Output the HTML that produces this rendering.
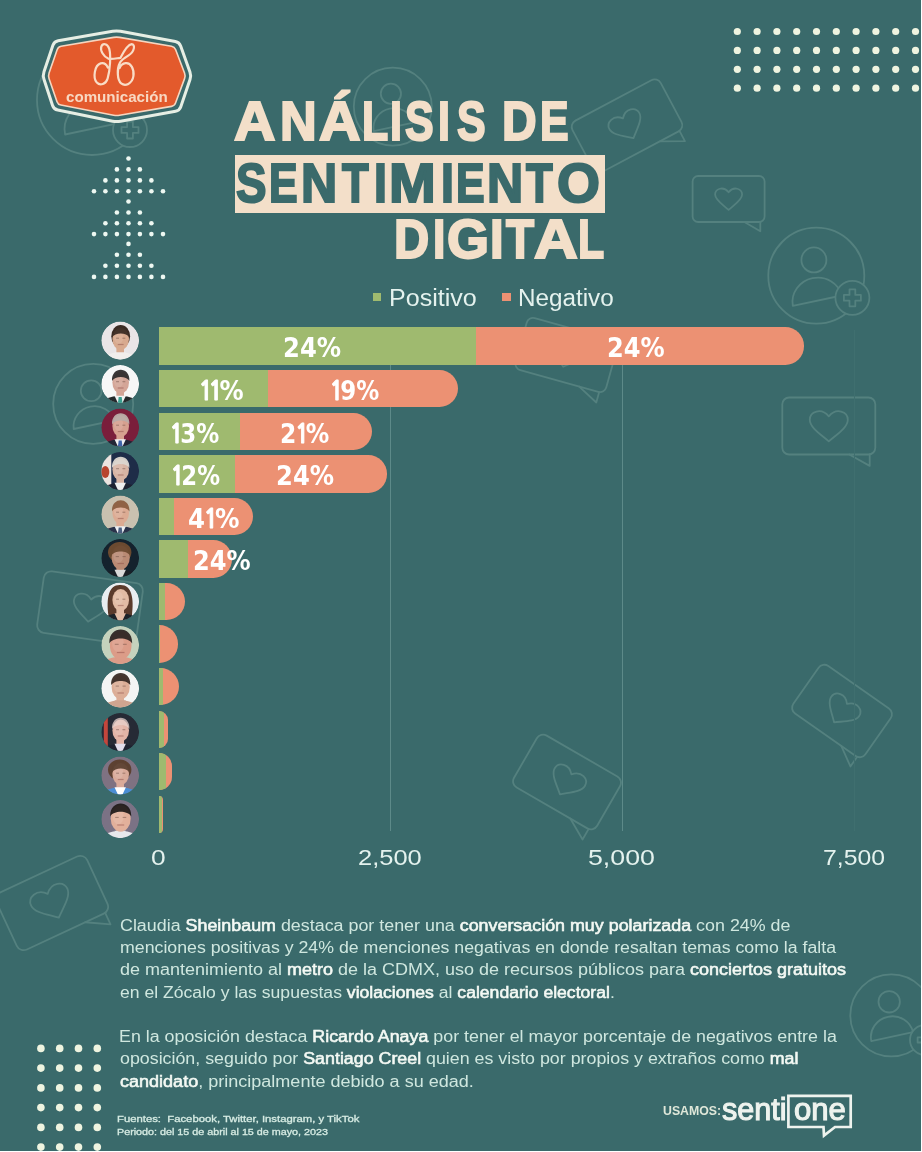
<!DOCTYPE html>
<html lang="es">
<head>
<meta charset="utf-8">
<title>Análisis de Sentimiento Digital</title>
<style>
html,body{margin:0;padding:0;}
body{width:922px;height:1152px;overflow:hidden;background:#ffffff;position:relative;}
#page{position:absolute;left:0;top:0;width:921px;height:1151px;background:#3a6a6b;overflow:hidden;font-family:"Liberation Sans",Arial,sans-serif;}
.abs{position:absolute;white-space:nowrap;transform-origin:0 0;}
.title{font-family:"Liberation Sans",Arial,sans-serif;font-weight:700;font-size:55px;line-height:55px;color:#f3dfc9;transform-origin:0 0;-webkit-text-stroke:2.1px currentColor;}
.legend{font-size:23.3px;line-height:23.3px;color:#e4f2ee;transform-origin:0 0;}
.lab{font-family:"DejaVu Sans","Liberation Sans",sans-serif;font-weight:700;font-size:26px;line-height:26px;color:#ffffff;transform-origin:0 0;}
.tick{font-size:22.8px;line-height:22.8px;color:#e4f2ee;}
.body{font-size:15.8px;line-height:15.8px;color:#cfe7df;transform-origin:0 0;}
.body b{color:#f4f9f4;font-weight:400;-webkit-text-stroke:0.55px currentColor;}
.foot{font-size:9.2px;line-height:9.2px;color:#d6ebe3;transform-origin:0 0;-webkit-text-stroke:0.3px currentColor;}
.g{position:absolute;top:0;transform-origin:0 0;}
.one1{font-family:"NanumGothic","DejaVu Sans",sans-serif;letter-spacing:-3.6px;margin-left:-1.6px;line-height:0;-webkit-text-stroke:0.9px currentColor;}
</style>
</head>
<body>

<div id="page">
<svg class="abs" style="left:0;top:0" width="922" height="1152" fill="none" stroke="#54817f" stroke-width="1.8" stroke-linejoin="round" stroke-linecap="round"><circle cx="92" cy="100" r="55"/><circle cx="89.2" cy="81.8" r="14.3"/><path d="M65.1,134.5 A28.6,27.2 -12 0 1 121.1,122.7 Z"/><circle cx="130" cy="130" r="17" fill="#3a6a6b"/><path d="M127.1,121.5 h5.8 v5.6 h5.6 v5.8 h-5.6 v5.6 h-5.8 v-5.6 h-5.6 v-5.8 h5.6 Z"/><circle cx="392.8" cy="106.6" r="39"/><circle cx="390.9" cy="93.7" r="10.1"/><path d="M373.7,131.1 A20.3,19.3 -12 0 1 413.4,122.7 Z"/><g transform="translate(627.0,126.0) rotate(-28)"><rect x="-50.0" y="-29.0" width="100.0" height="58.0" rx="7.0"/><path d="M22.0,29.0 L44.0,40.6 L44.0,29.0"/><path d="M0.0,13.8 C-6.8,7.7 -17.0,1.5 -17.0,-5.5 C-17.0,-12.9 -6.8,-16.8 0.0,-8.6 C6.8,-16.8 17.0,-12.9 17.0,-5.5 C17.0,1.5 6.8,7.7 0.0,13.8Z"/></g><g transform="translate(728.6,199.0) rotate(0)"><rect x="-36.0" y="-23.0" width="72.0" height="46.0" rx="5.5"/><path d="M15.8,23.0 L31.7,32.2 L31.7,23.0"/><path d="M0.0,10.9 C-5.4,6.1 -13.5,1.2 -13.5,-4.4 C-13.5,-10.2 -5.4,-13.4 0.0,-6.8 C5.4,-13.4 13.5,-10.2 13.5,-4.4 C13.5,1.2 5.4,6.1 0.0,10.9Z"/></g><circle cx="816.3" cy="275.7" r="48"/><circle cx="813.9" cy="259.9" r="12.5"/><path d="M792.8,305.8 A25.0,23.7 -12 0 1 841.7,295.5 Z"/><circle cx="852.4" cy="297.8" r="17" fill="#3a6a6b"/><path d="M849.5,289.3 h5.8 v5.6 h5.6 v5.8 h-5.6 v5.6 h-5.8 v-5.6 h-5.6 v-5.8 h5.6 Z"/><g transform="translate(828.8,426.0) rotate(0)"><rect x="-46.5" y="-28.5" width="93.0" height="57.0" rx="6.8"/><path d="M20.5,28.5 L40.9,39.9 L40.9,28.5"/><path d="M0.0,15.4 C-7.6,8.6 -19.0,1.7 -19.0,-6.2 C-19.0,-14.4 -7.6,-18.8 0.0,-9.6 C7.6,-18.8 19.0,-14.4 19.0,-6.2 C19.0,1.7 7.6,8.6 0.0,15.4Z"/></g><circle cx="93.2" cy="403.9" r="40"/><circle cx="91.2" cy="390.7" r="10.4"/><path d="M73.7,429.0 A20.8,19.8 -12 0 1 114.3,420.4 Z"/><g transform="translate(90.0,608.0) rotate(8)"><rect x="-50.0" y="-31.0" width="100.0" height="62.0" rx="7.4"/><path d="M22.0,31.0 L44.0,43.4 L44.0,31.0"/><path d="M0.0,13.8 C-6.8,7.7 -17.0,1.5 -17.0,-5.5 C-17.0,-12.9 -6.8,-16.8 0.0,-8.6 C6.8,-16.8 17.0,-12.9 17.0,-5.5 C17.0,1.5 6.8,7.7 0.0,13.8Z"/></g><g transform="translate(566.5,355.0) rotate(15.5)"><rect x="-47.0" y="-27.0" width="94.0" height="54.0" rx="6.5"/><path d="M20.7,27.0 L41.4,37.8 L41.4,27.0"/><path d="M0.0,12.2 C-6.0,6.8 -15.0,1.4 -15.0,-4.9 C-15.0,-11.3 -6.0,-14.9 0.0,-7.6 C6.0,-14.9 15.0,-11.3 15.0,-4.9 C15.0,1.4 6.0,6.8 0.0,12.2Z"/></g><g transform="translate(567.0,782.0) rotate(30)"><rect x="-48.0" y="-30.0" width="96.0" height="60.0" rx="7.2"/><path d="M21.1,30.0 L42.2,42.0 L42.2,30.0"/><path d="M0.0,14.2 C-7.0,7.9 -17.5,1.6 -17.5,-5.7 C-17.5,-13.2 -7.0,-17.3 0.0,-8.8 C7.0,-17.3 17.5,-13.2 17.5,-5.7 C17.5,1.6 7.0,7.9 0.0,14.2Z"/></g><g transform="translate(842.0,711.0) rotate(35)"><rect x="-44.0" y="-29.0" width="88.0" height="58.0" rx="7.0"/><path d="M19.4,29.0 L38.7,40.6 L38.7,29.0"/><path d="M0.0,13.8 C-6.8,7.7 -17.0,1.5 -17.0,-5.5 C-17.0,-12.9 -6.8,-16.8 0.0,-8.6 C6.8,-16.8 17.0,-12.9 17.0,-5.5 C17.0,1.5 6.8,7.7 0.0,13.8Z"/></g><g transform="translate(52.0,903.0) rotate(-25)"><rect x="-50.0" y="-31.5" width="100.0" height="63.0" rx="7.6"/><path d="M22.0,31.5 L44.0,44.1 L44.0,31.5"/><path d="M0.0,16.2 C-8.0,9.0 -20.0,1.8 -20.0,-6.5 C-20.0,-15.1 -8.0,-19.8 0.0,-10.1 C8.0,-19.8 20.0,-15.1 20.0,-6.5 C20.0,1.8 8.0,9.0 0.0,16.2Z"/></g><circle cx="891.3" cy="1015.3" r="41"/><circle cx="889.2" cy="1001.8" r="10.7"/><path d="M871.3,1041.1 A21.3,20.3 -12 0 1 913.0,1032.2 Z"/><circle cx="925" cy="1040" r="15" fill="#3a6a6b"/><path d="M922.5,1032.5 h5.1 v4.9 h4.9 v5.1 h-4.9 v4.9 h-5.1 v-4.9 h-4.9 v-5.1 h4.9 Z"/></svg>
<svg class="abs" style="left:0;top:0" width="922" height="1152" fill="#eff4e0"><circle cx="737.3" cy="31.5" r="3.6"/><circle cx="757.1" cy="31.5" r="3.6"/><circle cx="776.9" cy="31.5" r="3.6"/><circle cx="796.7" cy="31.5" r="3.6"/><circle cx="816.5" cy="31.5" r="3.6"/><circle cx="836.3" cy="31.5" r="3.6"/><circle cx="856.1" cy="31.5" r="3.6"/><circle cx="875.9" cy="31.5" r="3.6"/><circle cx="895.7" cy="31.5" r="3.6"/><circle cx="915.5" cy="31.5" r="3.6"/><circle cx="737.3" cy="50.4" r="3.6"/><circle cx="757.1" cy="50.4" r="3.6"/><circle cx="776.9" cy="50.4" r="3.6"/><circle cx="796.7" cy="50.4" r="3.6"/><circle cx="816.5" cy="50.4" r="3.6"/><circle cx="836.3" cy="50.4" r="3.6"/><circle cx="856.1" cy="50.4" r="3.6"/><circle cx="875.9" cy="50.4" r="3.6"/><circle cx="895.7" cy="50.4" r="3.6"/><circle cx="915.5" cy="50.4" r="3.6"/><circle cx="737.3" cy="69.3" r="3.6"/><circle cx="757.1" cy="69.3" r="3.6"/><circle cx="776.9" cy="69.3" r="3.6"/><circle cx="796.7" cy="69.3" r="3.6"/><circle cx="816.5" cy="69.3" r="3.6"/><circle cx="836.3" cy="69.3" r="3.6"/><circle cx="856.1" cy="69.3" r="3.6"/><circle cx="875.9" cy="69.3" r="3.6"/><circle cx="895.7" cy="69.3" r="3.6"/><circle cx="915.5" cy="69.3" r="3.6"/><circle cx="737.3" cy="88.2" r="3.6"/><circle cx="757.1" cy="88.2" r="3.6"/><circle cx="776.9" cy="88.2" r="3.6"/><circle cx="796.7" cy="88.2" r="3.6"/><circle cx="816.5" cy="88.2" r="3.6"/><circle cx="836.3" cy="88.2" r="3.6"/><circle cx="856.1" cy="88.2" r="3.6"/><circle cx="875.9" cy="88.2" r="3.6"/><circle cx="895.7" cy="88.2" r="3.6"/><circle cx="915.5" cy="88.2" r="3.6"/><circle cx="128.5" cy="158.5" r="2.3" fill="#eef8f2"/><circle cx="116.9" cy="169.4" r="2.3" fill="#eef8f2"/><circle cx="128.5" cy="169.4" r="2.3" fill="#eef8f2"/><circle cx="139.9" cy="169.4" r="2.3" fill="#eef8f2"/><circle cx="105.4" cy="180.4" r="2.3" fill="#eef8f2"/><circle cx="116.9" cy="180.4" r="2.3" fill="#eef8f2"/><circle cx="128.5" cy="180.4" r="2.3" fill="#eef8f2"/><circle cx="139.9" cy="180.4" r="2.3" fill="#eef8f2"/><circle cx="151.4" cy="180.4" r="2.3" fill="#eef8f2"/><circle cx="94.0" cy="191.3" r="2.3" fill="#eef8f2"/><circle cx="105.4" cy="191.3" r="2.3" fill="#eef8f2"/><circle cx="116.9" cy="191.3" r="2.3" fill="#eef8f2"/><circle cx="128.5" cy="191.3" r="2.3" fill="#eef8f2"/><circle cx="139.9" cy="191.3" r="2.3" fill="#eef8f2"/><circle cx="151.4" cy="191.3" r="2.3" fill="#eef8f2"/><circle cx="163.0" cy="191.3" r="2.3" fill="#eef8f2"/><circle cx="128.5" cy="201.5" r="2.3" fill="#eef8f2"/><circle cx="116.9" cy="212.5" r="2.3" fill="#eef8f2"/><circle cx="128.5" cy="212.5" r="2.3" fill="#eef8f2"/><circle cx="139.9" cy="212.5" r="2.3" fill="#eef8f2"/><circle cx="105.4" cy="223.3" r="2.3" fill="#eef8f2"/><circle cx="116.9" cy="223.3" r="2.3" fill="#eef8f2"/><circle cx="128.5" cy="223.3" r="2.3" fill="#eef8f2"/><circle cx="139.9" cy="223.3" r="2.3" fill="#eef8f2"/><circle cx="151.4" cy="223.3" r="2.3" fill="#eef8f2"/><circle cx="94.0" cy="234.1" r="2.3" fill="#eef8f2"/><circle cx="105.4" cy="234.1" r="2.3" fill="#eef8f2"/><circle cx="116.9" cy="234.1" r="2.3" fill="#eef8f2"/><circle cx="128.5" cy="234.1" r="2.3" fill="#eef8f2"/><circle cx="139.9" cy="234.1" r="2.3" fill="#eef8f2"/><circle cx="151.4" cy="234.1" r="2.3" fill="#eef8f2"/><circle cx="163.0" cy="234.1" r="2.3" fill="#eef8f2"/><circle cx="128.5" cy="243.9" r="2.3" fill="#eef8f2"/><circle cx="116.9" cy="254.7" r="2.3" fill="#eef8f2"/><circle cx="128.5" cy="254.7" r="2.3" fill="#eef8f2"/><circle cx="139.9" cy="254.7" r="2.3" fill="#eef8f2"/><circle cx="105.4" cy="265.8" r="2.3" fill="#eef8f2"/><circle cx="116.9" cy="265.8" r="2.3" fill="#eef8f2"/><circle cx="128.5" cy="265.8" r="2.3" fill="#eef8f2"/><circle cx="139.9" cy="265.8" r="2.3" fill="#eef8f2"/><circle cx="151.4" cy="265.8" r="2.3" fill="#eef8f2"/><circle cx="94.0" cy="276.9" r="2.3" fill="#eef8f2"/><circle cx="105.4" cy="276.9" r="2.3" fill="#eef8f2"/><circle cx="116.9" cy="276.9" r="2.3" fill="#eef8f2"/><circle cx="128.5" cy="276.9" r="2.3" fill="#eef8f2"/><circle cx="139.9" cy="276.9" r="2.3" fill="#eef8f2"/><circle cx="151.4" cy="276.9" r="2.3" fill="#eef8f2"/><circle cx="163.0" cy="276.9" r="2.3" fill="#eef8f2"/><circle cx="40.9" cy="1048.4" r="3.8"/><circle cx="59.7" cy="1048.4" r="3.8"/><circle cx="78.5" cy="1048.4" r="3.8"/><circle cx="97.3" cy="1048.4" r="3.8"/><circle cx="40.9" cy="1068.1" r="3.8"/><circle cx="59.7" cy="1068.1" r="3.8"/><circle cx="78.5" cy="1068.1" r="3.8"/><circle cx="97.3" cy="1068.1" r="3.8"/><circle cx="40.9" cy="1087.9" r="3.8"/><circle cx="59.7" cy="1087.9" r="3.8"/><circle cx="78.5" cy="1087.9" r="3.8"/><circle cx="97.3" cy="1087.9" r="3.8"/><circle cx="40.9" cy="1107.6" r="3.8"/><circle cx="59.7" cy="1107.6" r="3.8"/><circle cx="78.5" cy="1107.6" r="3.8"/><circle cx="97.3" cy="1107.6" r="3.8"/><circle cx="40.9" cy="1127.4" r="3.8"/><circle cx="59.7" cy="1127.4" r="3.8"/><circle cx="78.5" cy="1127.4" r="3.8"/><circle cx="97.3" cy="1127.4" r="3.8"/><circle cx="40.9" cy="1147.1" r="3.8"/><circle cx="59.7" cy="1147.1" r="3.8"/><circle cx="78.5" cy="1147.1" r="3.8"/><circle cx="97.3" cy="1147.1" r="3.8"/></svg>
<svg class="abs" style="left:0;top:0" width="240" height="140"><path d="M112.66,31.29 Q116.60,30.60 120.53,31.33 L175.37,41.57 Q179.30,42.30 180.65,46.07 L189.95,72.03 Q191.30,75.80 190.01,79.59 L180.79,106.71 Q179.50,110.50 175.57,111.22 L120.53,121.28 Q116.60,122.00 112.68,121.21 L57.72,110.09 Q53.80,109.30 52.55,105.50 L43.95,79.30 Q42.70,75.50 43.98,71.71 L52.92,45.29 Q54.20,41.50 58.14,40.81 Z" fill="#3a6a6b" stroke="#e6eee4" stroke-width="3" stroke-linejoin="round"/><path d="M113.64,37.40 Q116.60,36.90 119.56,37.40 L171.54,46.20 Q174.50,46.70 175.57,49.50 L184.53,73.00 Q185.60,75.80 184.56,78.61 L175.54,103.09 Q174.50,105.90 171.54,106.41 L119.56,115.29 Q116.60,115.80 113.65,115.23 L60.95,105.07 Q58.00,104.50 57.02,101.67 L49.08,78.73 Q48.10,75.90 49.07,73.06 L57.13,49.64 Q58.10,46.80 61.06,46.30 Z" fill="#e35a2c" stroke="#f6d6c0" stroke-width="1.6" stroke-linejoin="round"/><path d="M120.5,57.8 C115,58.6 111,59.6 108.2,58.6 C103.5,56.5 100,50.5 101.3,46.6 C102.8,42.6 107.6,43.6 109.2,48.6 C111,55 110.2,70 107.6,78.6 C105.8,84.2 100.2,86.2 96.8,82.6 C92.6,77.8 94.6,65.2 100.6,63.4 C104,62.6 106.6,64.8 107.8,67.5 M120.5,57.8 C123.5,52 127.5,44.6 131.6,44.2 C135.6,44.2 134.6,51.6 128.6,55.4 C125,57.6 121.6,59.6 120,62.6 C116.6,69 117.2,80 121.2,83.4 C125.2,86.6 132.2,84 133.4,76.2 C134.4,69.2 131,62.6 125.6,63.2 C122.6,63.6 120.4,66 119.6,68" fill="none" stroke="#f9dcc6" stroke-width="2.2" stroke-linecap="round"/></svg><div class="abs " id="logotxt" style="left:65.78px;top:90.20px;transform:scaleX(1.0224);font-weight:700;font-size:14.8px;line-height:14.8px;color:#f8d8c2;transform-origin:0 0;">comunicación</div>
<div class="abs title" id="t1" style="left:0;top:93.50px;width:922px;height:58px;"><span class="g" style="left:233.70px;transform:scaleX(1.0425)">A</span><span class="g" style="left:280.25px;transform:scaleX(0.9229)">N</span><span class="g" style="left:319.10px;transform:scaleX(1.0450)">Á</span><span class="g" style="left:362.40px;transform:scaleX(0.7800)">L</span><span class="g" style="left:389.64px;transform:scaleX(0.7818)">I</span><span class="g" style="left:404.61px;transform:scaleX(0.7800)">S</span><span class="g" style="left:438.40px;transform:scaleX(0.7800)">I</span><span class="g" style="left:456.81px;transform:scaleX(0.7800)">S</span> <span class="g" style="left:501.85px;transform:scaleX(0.8730)">D</span><span class="g" style="left:540.48px;transform:scaleX(0.7800)">E</span></div><div class="abs" style="left:234.5px;top:154.8px;width:370px;height:58.2px;background:#f3dfc9"></div><div class="abs title" id="t2" style="left:0;top:155.50px;width:922px;height:58px;color:#3a6a6b;"><span class="g" style="left:236.10px;transform:scaleX(0.8306)">S</span><span class="g" style="left:268.68px;transform:scaleX(0.7800)">E</span><span class="g" style="left:301.28px;transform:scaleX(0.9114)">N</span><span class="g" style="left:341.99px;transform:scaleX(0.7943)">T</span><span class="g" style="left:373.51px;transform:scaleX(0.8455)">I</span><span class="g" style="left:388.66px;transform:scaleX(1.0195)">M</span><span class="g" style="left:441.11px;transform:scaleX(0.8455)">I</span><span class="g" style="left:455.78px;transform:scaleX(0.7800)">E</span><span class="g" style="left:487.38px;transform:scaleX(0.9114)">N</span><span class="g" style="left:525.99px;transform:scaleX(0.7943)">T</span><span class="g" style="left:557.20px;transform:scaleX(1.0049)">O</span></div><div class="abs title" id="t3" style="left:0;top:212.10px;width:922px;height:58px;"><span class="g" style="left:394.43px;transform:scaleX(0.8865)">D</span><span class="g" style="left:432.78px;transform:scaleX(0.8091)">I</span><span class="g" style="left:447.12px;transform:scaleX(0.9825)">G</span><span class="g" style="left:489.82px;transform:scaleX(0.8909)">I</span><span class="g" style="left:506.34px;transform:scaleX(0.8371)">T</span><span class="g" style="left:534.20px;transform:scaleX(1.1025)">A</span><span class="g" style="left:577.80px;transform:scaleX(0.7800)">L</span></div>
<div class="abs" style="left:372.9px;top:293px;width:8.3px;height:8px;background:#9fba6f"></div><div class="abs legend" id="lg1" style="left:389.09px;top:286.50px;transform:scaleX(1.0759);">Positivo</div><div class="abs" style="left:502.4px;top:293px;width:8.2px;height:8px;background:#ec9173"></div><div class="abs legend" id="lg2" style="left:518.04px;top:286.50px;transform:scaleX(1.0411);">Negativo</div>
<div class="abs" style="left:389.8px;top:330px;width:1.3px;height:501px;background:#5d8a89"></div><div class="abs" style="left:621.8px;top:330px;width:1.3px;height:501px;background:#5d8a89"></div><div class="abs" style="left:853.8px;top:330px;width:1.2px;height:501px;background:#3f6f6f"></div><div class="abs" style="left:158.5px;top:327.40px;width:645.90px;height:37.4px;background:#ec9173;border-radius:0 18.7px 18.7px 0;overflow:hidden"><div style="position:absolute;left:0;top:0;width:317.80px;height:100%;background:#9fba6f"></div></div><div class="abs" style="left:158.5px;top:369.97px;width:299.80px;height:37.4px;background:#ec9173;border-radius:0 18.7px 18.7px 0;overflow:hidden"><div style="position:absolute;left:0;top:0;width:109.50px;height:100%;background:#9fba6f"></div></div><div class="abs" style="left:158.5px;top:412.54px;width:213.60px;height:37.4px;background:#ec9173;border-radius:0 18.7px 18.7px 0;overflow:hidden"><div style="position:absolute;left:0;top:0;width:81.10px;height:100%;background:#9fba6f"></div></div><div class="abs" style="left:158.5px;top:455.11px;width:228.20px;height:37.4px;background:#ec9173;border-radius:0 18.7px 18.7px 0;overflow:hidden"><div style="position:absolute;left:0;top:0;width:76.50px;height:100%;background:#9fba6f"></div></div><div class="abs" style="left:158.5px;top:497.68px;width:94.60px;height:37.4px;background:#ec9173;border-radius:0 18.7px 18.7px 0;overflow:hidden"><div style="position:absolute;left:0;top:0;width:15.10px;height:100%;background:#9fba6f"></div></div><div class="abs" style="left:158.5px;top:540.25px;width:73.10px;height:37.4px;background:#ec9173;border-radius:0 18.7px 18.7px 0;overflow:hidden"><div style="position:absolute;left:0;top:0;width:29.70px;height:100%;background:#9fba6f"></div></div><div class="abs" style="left:158.5px;top:582.82px;width:26.80px;height:37.4px;background:#ec9173;border-radius:0 18.7px 18.7px 0;overflow:hidden"><div style="position:absolute;left:0;top:0;width:6.70px;height:100%;background:#9fba6f"></div></div><div class="abs" style="left:158.5px;top:625.39px;width:19.50px;height:37.4px;background:#ec9173;border-radius:0 18.7px 18.7px 0;overflow:hidden"><div style="position:absolute;left:0;top:0;width:1.00px;height:100%;background:#9fba6f"></div></div><div class="abs" style="left:158.5px;top:667.96px;width:20.10px;height:37.4px;background:#ec9173;border-radius:0 18.7px 18.7px 0;overflow:hidden"><div style="position:absolute;left:0;top:0;width:4.60px;height:100%;background:#9fba6f"></div></div><div class="abs" style="left:158.5px;top:710.53px;width:9.50px;height:37.4px;background:#ec9173;border-radius:0 18.7px 18.7px 0;overflow:hidden"><div style="position:absolute;left:0;top:0;width:5.90px;height:100%;background:#9fba6f"></div></div><div class="abs" style="left:158.5px;top:753.10px;width:13.40px;height:37.4px;background:#ec9173;border-radius:0 18.7px 18.7px 0;overflow:hidden"><div style="position:absolute;left:0;top:0;width:7.90px;height:100%;background:#9fba6f"></div></div><div class="abs" style="left:158.5px;top:795.67px;width:4.60px;height:37.4px;background:#ec9173;border-radius:0 18.7px 18.7px 0;overflow:hidden"><div style="position:absolute;left:0;top:0;width:3.10px;height:100%;background:#9fba6f"></div></div>
<svg class="abs" style="left:0;top:0" width="922" height="1152"><defs><clipPath id="ac0"><circle cx="120.2" cy="340.5" r="18.9"/></clipPath><clipPath id="ac1"><circle cx="120.2" cy="384.0" r="18.9"/></clipPath><clipPath id="ac2"><circle cx="120.2" cy="427.5" r="18.9"/></clipPath><clipPath id="ac3"><circle cx="120.2" cy="471.0" r="18.9"/></clipPath><clipPath id="ac4"><circle cx="120.2" cy="514.5" r="18.9"/></clipPath><clipPath id="ac5"><circle cx="120.2" cy="558.0" r="18.9"/></clipPath><clipPath id="ac6"><circle cx="120.2" cy="601.5" r="18.9"/></clipPath><clipPath id="ac7"><circle cx="120.2" cy="645.0" r="18.9"/></clipPath><clipPath id="ac8"><circle cx="120.2" cy="688.5" r="18.9"/></clipPath><clipPath id="ac9"><circle cx="120.2" cy="732.0" r="18.9"/></clipPath><clipPath id="ac10"><circle cx="120.2" cy="775.5" r="18.9"/></clipPath><clipPath id="ac11"><circle cx="120.2" cy="819.0" r="18.9"/></clipPath></defs><g clip-path="url(#ac0)"><circle cx="120.2" cy="340.5" r="18.9" fill="#e9e5e7"/><ellipse cx="120.7" cy="336.3" rx="9.4" ry="11.3" fill="#3b2b24"/><ellipse cx="120.2" cy="360.9" rx="18.5" ry="8.7" fill="#f1eeec"/><rect x="116.4" y="346.2" width="7.6" height="7.6" fill="#d8a98e"/><path d="M114.5,352.2 L125.9,352.2 L122.5,359.4 L117.9,359.4Z" fill="#f1eeec"/><ellipse cx="120.7" cy="339.0" rx="8.3" ry="11.0" fill="#d8a98e"/><ellipse cx="118.6" cy="337.4" rx="4.6" ry="6.6" fill="#ffffff" opacity="0.10"/><path d="M112.0,337.4 C111.1,322.4 130.3,322.4 129.4,337.4 C126.5,332.2 114.9,332.2 112.0,337.4Z" fill="#3b2b24" opacity="0.95"/><rect x="116.1" y="337.7" width="2.9" height="1" fill="#6a4a40" opacity="0.5"/><rect x="122.4" y="337.7" width="2.9" height="1" fill="#6a4a40" opacity="0.5"/><rect x="117.8" y="343.9" width="5.8" height="1.2" fill="#8a4a44" opacity="0.45"/></g><g clip-path="url(#ac1)"><circle cx="120.2" cy="384.0" r="18.9" fill="#f7f7f7"/><ellipse cx="120.2" cy="404.4" rx="18.5" ry="8.7" fill="#23292b"/><rect x="116.4" y="389.7" width="7.6" height="7.6" fill="#d4a597"/><path d="M114.5,395.7 L125.9,395.7 L122.5,402.9 L117.9,402.9Z" fill="#f2f2f2"/><path d="M118.7,396.9 L121.7,396.9 L122.5,402.9 L117.9,402.9Z" fill="#3aa090"/><ellipse cx="120.7" cy="382.5" rx="8.3" ry="11.0" fill="#d4a597"/><ellipse cx="118.6" cy="380.9" rx="4.6" ry="6.6" fill="#ffffff" opacity="0.10"/><path d="M112.0,380.9 C111.1,365.9 130.3,365.9 129.4,380.9 C126.5,375.7 114.9,375.7 112.0,380.9Z" fill="#2f2b2c" opacity="0.95"/><rect x="116.1" y="381.2" width="2.9" height="1" fill="#6a4a40" opacity="0.5"/><rect x="122.4" y="381.2" width="2.9" height="1" fill="#6a4a40" opacity="0.5"/><rect x="117.8" y="387.4" width="5.8" height="1.2" fill="#8a4a44" opacity="0.45"/></g><g clip-path="url(#ac2)"><circle cx="120.2" cy="427.5" r="18.9" fill="#7a1e3b"/><ellipse cx="120.2" cy="447.9" rx="18.5" ry="8.7" fill="#222636"/><rect x="116.4" y="433.2" width="7.6" height="7.6" fill="#d6a08f"/><path d="M114.5,439.2 L125.9,439.2 L122.5,446.4 L117.9,446.4Z" fill="#f0f0f2"/><path d="M118.7,440.4 L121.7,440.4 L122.5,446.4 L117.9,446.4Z" fill="#3f63a8"/><ellipse cx="120.7" cy="426.0" rx="8.3" ry="11.0" fill="#d6a08f"/><ellipse cx="118.6" cy="424.4" rx="4.6" ry="6.6" fill="#ffffff" opacity="0.10"/><path d="M112.0,424.4 C111.1,409.4 130.3,409.4 129.4,424.4 C126.5,419.2 114.9,419.2 112.0,424.4Z" fill="#b9aca8" opacity="0.95"/><rect x="116.1" y="424.7" width="2.9" height="1" fill="#6a4a40" opacity="0.5"/><rect x="122.4" y="424.7" width="2.9" height="1" fill="#6a4a40" opacity="0.5"/><rect x="117.8" y="430.9" width="5.8" height="1.2" fill="#8a4a44" opacity="0.45"/></g><g clip-path="url(#ac3)"><circle cx="120.2" cy="471.0" r="18.9" fill="#1e2c48"/><rect x="101.30000000000001" y="452.1" width="10" height="37.8" fill="#ece4e0"/><ellipse cx="105.30000000000001" cy="472.0" rx="4" ry="6" fill="#b8442e"/><ellipse cx="120.2" cy="491.4" rx="18.5" ry="8.7" fill="#1d2130"/><rect x="116.4" y="476.7" width="7.6" height="7.6" fill="#d8b4a4"/><path d="M114.5,482.7 L125.9,482.7 L122.5,489.9 L117.9,489.9Z" fill="#eeeeee"/><ellipse cx="120.7" cy="469.5" rx="8.3" ry="11.0" fill="#d8b4a4"/><ellipse cx="118.6" cy="467.9" rx="4.6" ry="6.6" fill="#ffffff" opacity="0.10"/><path d="M112.0,467.9 C111.1,452.9 130.3,452.9 129.4,467.9 C126.5,462.7 114.9,462.7 112.0,467.9Z" fill="#dcd6d0" opacity="0.95"/><rect x="116.1" y="468.2" width="2.9" height="1" fill="#6a4a40" opacity="0.5"/><rect x="122.4" y="468.2" width="2.9" height="1" fill="#6a4a40" opacity="0.5"/><rect x="117.8" y="474.4" width="5.8" height="1.2" fill="#8a4a44" opacity="0.45"/></g><g clip-path="url(#ac4)"><circle cx="120.2" cy="514.5" r="18.9" fill="#c9c1b0"/><ellipse cx="120.2" cy="534.9" rx="18.5" ry="8.7" fill="#29324a"/><rect x="116.4" y="520.2" width="7.6" height="7.6" fill="#dcab93"/><path d="M114.5,526.2 L125.9,526.2 L122.5,533.4 L117.9,533.4Z" fill="#eef0f2"/><path d="M118.7,527.4 L121.7,527.4 L122.5,533.4 L117.9,533.4Z" fill="#4a5f80"/><ellipse cx="120.7" cy="513.0" rx="8.3" ry="11.0" fill="#dcab93"/><ellipse cx="118.6" cy="511.4" rx="4.6" ry="6.6" fill="#ffffff" opacity="0.10"/><path d="M112.0,511.4 C111.1,496.4 130.3,496.4 129.4,511.4 C126.5,506.2 114.9,506.2 112.0,511.4Z" fill="#8b5e40" opacity="0.95"/><rect x="116.1" y="511.7" width="2.9" height="1" fill="#6a4a40" opacity="0.5"/><rect x="122.4" y="511.7" width="2.9" height="1" fill="#6a4a40" opacity="0.5"/><rect x="117.8" y="517.9" width="5.8" height="1.2" fill="#8a4a44" opacity="0.45"/></g><g clip-path="url(#ac5)"><circle cx="120.2" cy="558.0" r="18.9" fill="#14222d"/><ellipse cx="120.2" cy="578.4" rx="18.5" ry="8.7" fill="#1a1f26"/><rect x="116.4" y="563.7" width="7.6" height="7.6" fill="#b98a74"/><path d="M114.5,569.7 L125.9,569.7 L122.5,576.9 L117.9,576.9Z" fill="#dadada"/><ellipse cx="119.7" cy="552.3" rx="11.7" ry="10.4" fill="#6b4a30"/><ellipse cx="120.7" cy="557.5" rx="9.1" ry="12.1" fill="#b98a74"/><ellipse cx="118.4" cy="555.7" rx="5.0" ry="7.2" fill="#ffffff" opacity="0.10"/><path d="M111.1,555.7 C110.2,539.5 131.2,539.5 130.3,555.7 C127.1,550.0 114.3,550.0 111.1,555.7Z" fill="#6b4a30" opacity="0.95"/><rect x="115.7" y="556.1" width="3.2" height="1" fill="#6a4a40" opacity="0.5"/><rect x="122.5" y="556.1" width="3.2" height="1" fill="#6a4a40" opacity="0.5"/><rect x="117.5" y="562.9" width="6.4" height="1.2" fill="#8a4a44" opacity="0.45"/></g><g clip-path="url(#ac6)"><circle cx="120.2" cy="601.5" r="18.9" fill="#e9edf0"/><path d="M108.5,615.7 C106.0,597.7 108.9,584.5 120.2,584.9 C131.5,584.5 134.4,597.7 131.9,615.7 Z" fill="#5a3a2b"/><ellipse cx="120.2" cy="621.9" rx="18.5" ry="8.7" fill="#1c2228"/><rect x="116.4" y="607.2" width="7.6" height="7.6" fill="#e2bba4"/><path d="M114.5,613.2 L125.9,613.2 L122.5,620.4 L117.9,620.4Z" fill="#e2bba4"/><ellipse cx="120.7" cy="600.0" rx="8.3" ry="11.0" fill="#e2bba4"/><ellipse cx="118.6" cy="598.4" rx="4.6" ry="6.6" fill="#ffffff" opacity="0.10"/><rect x="116.1" y="598.7" width="2.9" height="1" fill="#6a4a40" opacity="0.5"/><rect x="122.4" y="598.7" width="2.9" height="1" fill="#6a4a40" opacity="0.5"/><rect x="117.8" y="604.9" width="5.8" height="1.2" fill="#8a4a44" opacity="0.45"/></g><g clip-path="url(#ac7)"><circle cx="120.2" cy="645.0" r="18.9" fill="#c5d2bd"/><ellipse cx="120.2" cy="665.4" rx="18.5" ry="8.7" fill="#dc9c88"/><rect x="116.4" y="650.7" width="7.6" height="7.6" fill="#dc9c88"/><path d="M114.5,656.7 L125.9,656.7 L122.5,663.9 L117.9,663.9Z" fill="#dc9c88"/><ellipse cx="120.7" cy="645.5" rx="10.8" ry="14.3" fill="#dc9c88"/><ellipse cx="118.0" cy="643.4" rx="5.9" ry="8.6" fill="#ffffff" opacity="0.10"/><path d="M109.3,643.4 C108.3,624.7 133.1,624.7 132.1,643.4 C128.3,636.7 113.1,636.7 109.3,643.4Z" fill="#2e2624" opacity="0.95"/><rect x="114.8" y="643.8" width="3.8" height="1" fill="#6a4a40" opacity="0.5"/><rect x="122.9" y="643.8" width="3.8" height="1" fill="#6a4a40" opacity="0.5"/><rect x="116.9" y="651.9" width="7.6" height="1.2" fill="#8a4a44" opacity="0.45"/></g><g clip-path="url(#ac8)"><circle cx="120.2" cy="688.5" r="18.9" fill="#f4f5f4"/><ellipse cx="120.2" cy="708.9" rx="18.5" ry="8.7" fill="#cfa590"/><rect x="116.4" y="694.2" width="7.6" height="7.6" fill="#dcae97"/><path d="M114.5,700.2 L125.9,700.2 L122.5,707.4 L117.9,707.4Z" fill="#cfa590"/><ellipse cx="120.7" cy="687.0" rx="9.1" ry="12.1" fill="#dcae97"/><ellipse cx="118.4" cy="685.2" rx="5.0" ry="7.2" fill="#ffffff" opacity="0.10"/><path d="M111.1,685.2 C110.2,669.0 131.2,669.0 130.3,685.2 C127.1,679.5 114.3,679.5 111.1,685.2Z" fill="#3a2c26" opacity="0.95"/><rect x="115.7" y="685.6" width="3.2" height="1" fill="#6a4a40" opacity="0.5"/><rect x="122.5" y="685.6" width="3.2" height="1" fill="#6a4a40" opacity="0.5"/><rect x="117.5" y="692.4" width="6.4" height="1.2" fill="#8a4a44" opacity="0.45"/></g><g clip-path="url(#ac9)"><circle cx="120.2" cy="732.0" r="18.9" fill="#262a35"/><rect x="103.80000000000001" y="713.1" width="4" height="37.8" fill="#c4463c"/><ellipse cx="120.2" cy="752.4" rx="18.5" ry="8.7" fill="#1e2230"/><rect x="116.4" y="737.7" width="7.6" height="7.6" fill="#e3b4a7"/><path d="M114.5,743.7 L125.9,743.7 L122.5,750.9 L117.9,750.9Z" fill="#e0dcea"/><ellipse cx="120.7" cy="730.5" rx="8.3" ry="11.0" fill="#e3b4a7"/><ellipse cx="118.6" cy="728.9" rx="4.6" ry="6.6" fill="#ffffff" opacity="0.10"/><path d="M112.0,728.9 C111.1,713.9 130.3,713.9 129.4,728.9 C126.5,723.7 114.9,723.7 112.0,728.9Z" fill="#e8d2cc" opacity="0.75"/><rect x="116.1" y="729.2" width="2.9" height="1" fill="#6a4a40" opacity="0.5"/><rect x="122.4" y="729.2" width="2.9" height="1" fill="#6a4a40" opacity="0.5"/><rect x="117.8" y="735.4" width="5.8" height="1.2" fill="#8a4a44" opacity="0.45"/></g><g clip-path="url(#ac10)"><circle cx="120.2" cy="775.5" r="18.9" fill="#7f7282"/><ellipse cx="120.2" cy="795.9" rx="18.5" ry="8.7" fill="#4a8ed6"/><rect x="116.4" y="781.2" width="7.6" height="7.6" fill="#d9aa9a"/><path d="M114.5,787.2 L125.9,787.2 L122.5,794.4 L117.9,794.4Z" fill="#ffffff"/><ellipse cx="119.7" cy="769.8" rx="11.7" ry="10.4" fill="#5d4131"/><ellipse cx="120.7" cy="774.0" rx="8.3" ry="11.0" fill="#d9aa9a"/><ellipse cx="118.6" cy="772.4" rx="4.6" ry="6.6" fill="#ffffff" opacity="0.10"/><path d="M112.0,772.4 C111.1,757.4 130.3,757.4 129.4,772.4 C126.5,767.2 114.9,767.2 112.0,772.4Z" fill="#5d4131" opacity="0.95"/><rect x="116.1" y="772.7" width="2.9" height="1" fill="#6a4a40" opacity="0.5"/><rect x="122.4" y="772.7" width="2.9" height="1" fill="#6a4a40" opacity="0.5"/><rect x="117.8" y="778.9" width="5.8" height="1.2" fill="#8a4a44" opacity="0.45"/></g><g clip-path="url(#ac11)"><circle cx="120.2" cy="819.0" r="18.9" fill="#7b7285"/><ellipse cx="120.2" cy="839.4" rx="18.5" ry="8.7" fill="#e8e8ec"/><rect x="116.4" y="824.7" width="7.6" height="7.6" fill="#e2b09b"/><path d="M114.5,830.7 L125.9,830.7 L122.5,837.9 L117.9,837.9Z" fill="#e8e8ec"/><ellipse cx="120.7" cy="818.5" rx="10.0" ry="13.2" fill="#e2b09b"/><ellipse cx="118.2" cy="816.5" rx="5.5" ry="7.9" fill="#ffffff" opacity="0.10"/><path d="M110.2,816.5 C109.2,799.1 132.2,799.1 131.2,816.5 C127.7,810.3 113.7,810.3 110.2,816.5Z" fill="#231c1b" opacity="0.95"/><rect x="115.2" y="816.9" width="3.5" height="1" fill="#6a4a40" opacity="0.5"/><rect x="122.7" y="816.9" width="3.5" height="1" fill="#6a4a40" opacity="0.5"/><rect x="117.2" y="824.4" width="7.0" height="1.2" fill="#8a4a44" opacity="0.45"/></g></svg>
<div class="abs lab" id="lb0" style="left:282.71px;top:335.38px;transform:scaleX(0.9333);">24%</div><div class="abs lab" id="lb1" style="left:607.15px;top:335.38px;transform:scaleX(0.9267);">24%</div><div class="abs lab" id="lb2" style="left:199.87px;top:377.95px;transform:scaleX(0.9261);"><span class="one1" style="letter-spacing:-3.60px">1</span><span class="one1" style="letter-spacing:-3.60px">1</span>%</div><div class="abs lab" id="lb3" style="left:331.48px;top:377.95px;transform:scaleX(0.8830);"><span class="one1" style="letter-spacing:-3.60px">1</span>9%</div><div class="abs lab" id="lb4" style="left:171.36px;top:420.52px;transform:scaleX(0.8830);"><span class="one1" style="letter-spacing:-3.60px">1</span>3%</div><div class="abs lab" id="lb5" style="left:280.00px;top:420.52px;transform:scaleX(0.9019);">2<span class="one1" style="letter-spacing:-3.60px">1</span>%</div><div class="abs lab" id="lb6" style="left:171.57px;top:463.09px;transform:scaleX(0.8774);"><span class="one1" style="letter-spacing:-3.60px">1</span>2%</div><div class="abs lab" id="lb7" style="left:275.64px;top:463.09px;transform:scaleX(0.9339);">24%</div><div class="abs lab" id="lb8" style="left:188.36px;top:505.66px;transform:scaleX(0.9396);">4<span class="one1" style="letter-spacing:-3.60px">1</span>%</div><div class="abs lab" id="lb9" style="left:192.81px;top:548.23px;transform:scaleX(0.9267);">24%</div>
<div class="abs tick" id="tk0" style="left:151.30px;top:845.60px;transform:scaleX(1.1545);">0</div><div class="abs tick" id="tk1" style="left:357.65px;top:845.60px;transform:scaleX(1.1182);">2,500</div><div class="abs tick" id="tk2" style="left:588.09px;top:845.60px;transform:scaleX(1.1727);">5,000</div><div class="abs tick" id="tk3" style="left:823.17px;top:845.60px;transform:scaleX(1.0873);">7,500</div>
<div class="abs body" id="b0" style="left:120.23px;top:917.83px;transform:scaleX(1.1311);">Claudia <b>Sheinbaum</b> destaca por tener una <b>conversación muy polarizada</b> con 24% de</div><div class="abs body" id="b1" style="left:120.24px;top:940.13px;transform:scaleX(1.1232);">menciones positivas y 24% de menciones negativas en donde resaltan temas como la falta</div><div class="abs body" id="b2" style="left:120.23px;top:962.43px;transform:scaleX(1.1388);">de mantenimiento al <b>metro</b> de la CDMX, uso de recursos públicos para <b>conciertos gratuitos</b></div><div class="abs body" id="b3" style="left:120.24px;top:984.63px;transform:scaleX(1.1135);">en el Zócalo y las supuestas <b>violaciones</b> al <b>calendario electoral</b>.</div><div class="abs body" id="b4" style="left:119.11px;top:1028.83px;transform:scaleX(1.1290);">En la oposición destaca <b>Ricardo Anaya</b> por tener el mayor porcentaje de negativos entre la</div><div class="abs body" id="b5" style="left:120.24px;top:1051.33px;transform:scaleX(1.1278);">oposición, seguido por <b>Santiago Creel</b> quien es visto por propios y extraños como <b>mal</b></div><div class="abs body" id="b6" style="left:120.23px;top:1073.63px;transform:scaleX(1.1412);"><b>candidato</b>, principalmente debido a su edad.</div><div class="abs foot" id="f0" style="left:116.55px;top:1114.71px;transform:scaleX(1.2305);">Fuentes:&nbsp; Facebook, Twitter, Instagram, y TikTok</div><div class="abs foot" id="f1" style="left:116.56px;top:1128.21px;transform:scaleX(1.1700);">Periodo: del 15 de abril al 15 de mayo, 2023</div>
<div class="abs " id="usamos" style="left:662.74px;top:1104.96px;transform:scaleX(0.9621);font-weight:700;font-size:12.8px;line-height:12.8px;color:#dfe7d9;transform-origin:0 0;">USAMOS:</div><div class="abs " id="senti" style="left:721.71px;top:1094.06px;transform:scaleX(0.9873);font-size:31px;line-height:31px;color:#eef3ee;transform-origin:0 0;-webkit-text-stroke:1.1px currentColor;">senti</div><svg class="abs" style="left:0;top:0" width="922" height="1152"><path d="M788.4,1095.9 H850.7 V1127 H835 L824,1135.5 L823.5,1127 H788.4 Z" fill="none" stroke="#eef3ee" stroke-width="2.7" stroke-linejoin="miter"/></svg><div class="abs " id="one" style="left:793.50px;top:1094.06px;transform:scaleX(1.0039);font-size:31px;line-height:31px;color:#eef3ee;transform-origin:0 0;-webkit-text-stroke:1.1px currentColor;">one</div>
</div></body></html>
